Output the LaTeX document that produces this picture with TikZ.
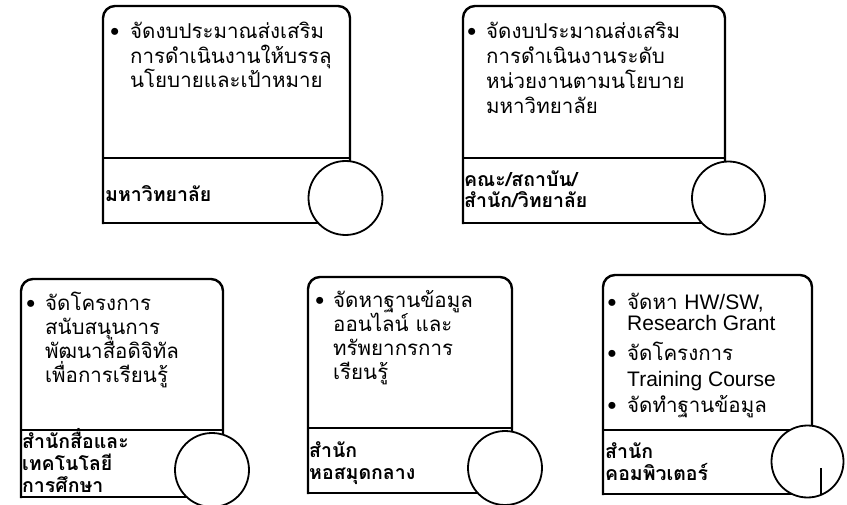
\documentclass[tikz,border=0pt]{standalone}
\usepackage{fontspec}
\newfontfamily\thai[Script=Thai]{Loma}
\newfontfamily\lat{Liberation Sans}
\newcommand{\stk}[2]{\vtop{\baselineskip=#1\lineskiplimit=-100pt\relax #2}}
\tikzset{
  boxline/.style={line width=2.4pt, line cap=rect},
  logo/.style={draw, fill=white, line width=1.8pt},
  body/.style={font=\thai\fontsize{20.5}{24.5}\selectfont, anchor=base west, inner sep=0pt},
  dot/.style={font=\thai\fontsize{20.5}{24.5}\selectfont, anchor=base, inner sep=0pt},
  lbl/.style={font=\thai\bfseries\fontsize{19.5}{22}\selectfont, anchor=base west, inner sep=0pt},
  latin/.style={font=\lat\fontsize{21}{24}\selectfont, anchor=base west, inner sep=0pt},
}
\newcommand{\orgbox}[6]{% x1 y1 x2 y2 ydiv name
  \draw[boxline, rounded corners=12pt] (#1,#4) -- (#1,#2) -- (#3,#2) -- (#3,#4);
  \draw[boxline] (#1,#4) -- (#3,#4);
  \draw[boxline] (#1,#5) -- (#3,#5);
  \coordinate (#6) at (#1,#2);
}
\begin{document}
\begin{tikzpicture}[x=1pt,y=-1pt]
\useasboundingbox (0,0) rectangle (847,505);
% Box 1
\orgbox{103}{6}{350}{223}{158}{b1}
\node[logo, circle, minimum size=74pt, inner sep=0pt] (c1) at (345.5,198) {};
\node[dot] (d1) at (115,39) {•};
\node[body] (t1) at (130,39) {\stk{24.5pt}{\hbox{จัดงบประมาณส่งเสริม}\hbox{การดำเนินงานให้บรรลุ}\hbox{นโยบายและเป้าหมาย}}};
\node[lbl] (l1) at (105,202) {มหาวิทยาลัย};
% Box 2
\orgbox{463}{6}{725}{223}{158}{b2}
\node[logo, circle, minimum size=73pt, inner sep=0pt] (c2) at (728.5,198) {};
\node[dot] (d2) at (472,39) {•};
\node[body] (t2) at (486,39) {\stk{24.7pt}{\hbox{จัดงบประมาณส่งเสริม}\hbox{การดำเนินงานระดับ}\hbox{หน่วยงานตามนโยบาย}\hbox{มหาวิทยาลัย}}};
\node[lbl] (l2) at (464,187) {\stk{21pt}{\hbox{คณะ/สถาบัน/}\hbox{สำนัก/วิทยาลัย}}};
% Box 3
\orgbox{21}{279}{223}{497}{430}{b3}
\node[logo, circle, minimum size=74pt, inner sep=0pt] (c3) at (212,470) {};
\node[dot] (d3) at (31,311) {•};
\node[body] (t3) at (45,311) {\stk{24pt}{\hbox{จัดโครงการ}\hbox{สนับสนุนการ}\hbox{พัฒนาสื่อดิจิทัล}\hbox{เพื่อการเรียนรู้}}};
\node[lbl] (l3) at (22,448) {\stk{22pt}{\hbox{สำนักสื่อและ}\hbox{เทคโนโลยี}\hbox{การศึกษา}}};
% Box 4
\orgbox{308}{277}{512}{493}{428}{b4}
\node[logo, circle, minimum size=74pt, inner sep=0pt] (c4) at (505,468) {};
\node[dot] (d4) at (320,308) {•};
\node[body] (t4) at (333,308) {\stk{23.7pt}{\hbox{จัดหาฐานข้อมูล}\hbox{ออนไลน์ และ}\hbox{ทรัพยากรการ}\hbox{เรียนรู้}}};
\node[lbl] (l4) at (309,457) {\stk{22.5pt}{\hbox{สำนัก}\hbox{หอสมุดกลาง}}};
% Box 5
\orgbox{603}{275}{812}{494}{430}{b5}
\node[logo, circle, minimum size=72pt, inner sep=0pt] (c5) at (807.5,461.5) {};
\coordinate (k1) at (821,468);
\coordinate (k2) at (821,495);
\draw[line width=1.8pt] (k1) -- (k2);
\node[dot] (d5a) at (612,310) {•};
\node[body] (t5a) at (627,310) {จัดหา {\lat\fontsize{21}{24}\selectfont HW/SW,}};
\node[latin] (t5b) at (627,331) {Research Grant};
\node[dot] (d5b) at (612,361) {•};
\node[body] (t5c) at (627,361) {จัดโครงการ};
\node[latin] (t5d) at (627,386) {Training Course};
\node[dot] (d5c) at (612,413) {•};
\node[body] (t5e) at (627,413) {จัดทำฐานข้อมูล};
\node[lbl] (l5) at (605,458) {\stk{22pt}{\hbox{สำนัก}\hbox{คอมพิวเตอร์}}};
\end{tikzpicture}
\end{document}
